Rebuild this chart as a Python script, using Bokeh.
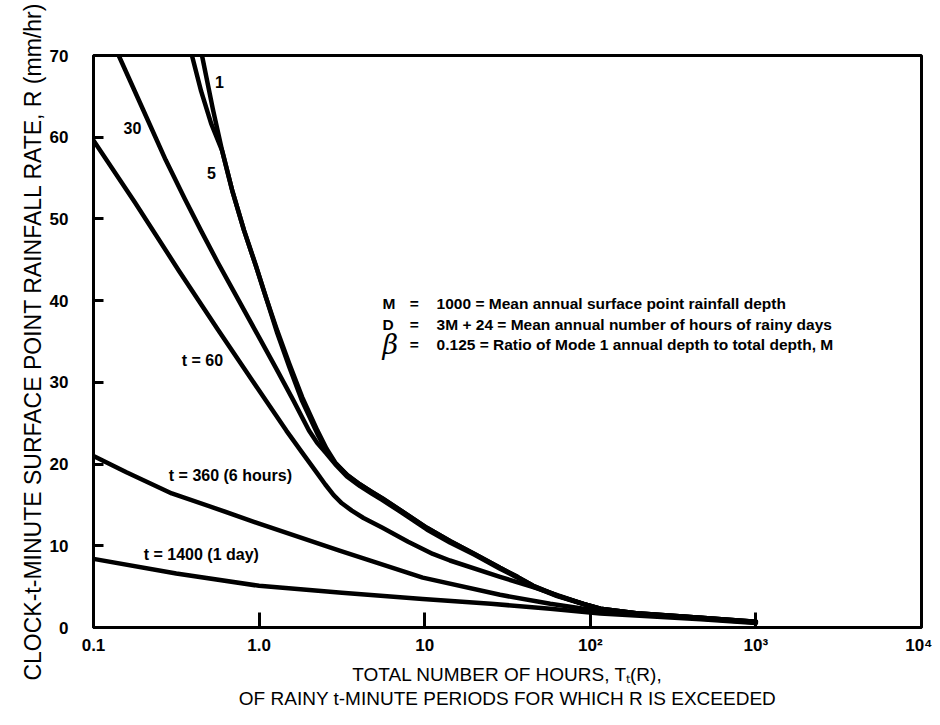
from bokeh.plotting import figure
from bokeh.models import FixedTicker, LogAxis, Title
from bokeh.embed import file_html
from bokeh.resources import INLINE
from bokeh.core.properties import value

# ---- data (x = hours, R = mm/hr) ----
t1_x = [0.452, 0.525, 0.597, 0.692, 0.811, 0.955, 1.10, 1.288, 1.52, 1.82, 2.25, 2.55, 2.88, 3.39, 4.07,
        4.79, 5.56, 7.08, 10.3, 14.2, 20.0, 28.5, 36.3, 45.2, 63.1, 90.8, 115, 200, 465, 1000]
t1_r = [70.0, 63.5, 58.4, 53.3, 48.6, 44.3, 40.4, 36.3, 32.3, 28.2, 24.1, 21.9, 20.2, 18.7, 17.5,
        16.6, 15.8, 14.4, 12.2, 10.6, 9.0, 7.3, 6.2, 5.1, 3.9, 2.9, 2.3, 1.7, 1.2, 0.7]

t5_x = [0.393, 0.447, 0.513, 0.597, 0.692, 0.811, 0.955, 1.10, 1.288, 1.52, 1.82, 2.25, 2.55, 2.88, 3.39,
        4.07, 4.79, 5.56, 7.08, 10.3, 14.2, 20.0, 28.5, 36.3, 45.2, 63.1, 90.8, 115, 200, 465, 1000]
t5_r = [70.0, 65.6, 61.7, 58.4, 53.3, 48.6, 44.3, 40.4, 36.0, 31.9, 27.7, 23.7, 21.6, 20.1, 18.7,
        17.5, 16.6, 15.8, 14.4, 12.2, 10.6, 9.0, 7.3, 6.2, 5.1, 3.9, 2.9, 2.3, 1.7, 1.2, 0.7]

t30_x = [0.142, 0.20, 0.273, 0.355, 0.445, 0.562, 0.70, 1.0, 1.26, 1.61, 2.0, 2.24, 2.55, 2.88, 3.39, 4.07,
         4.79, 5.56, 7.08, 10.3, 14.2, 20.0, 28.5, 36.3, 45.2, 63.1, 90.8, 115, 200, 465, 1000]
t30_r = [70.0, 63.3, 57.2, 52.5, 48.6, 44.7, 41.2, 35.5, 31.8, 27.8, 24.1, 22.6, 21.3, 20.0, 18.5, 17.3,
         16.4, 15.6, 14.2, 12.0, 10.4, 8.9, 7.2, 6.1, 5.0, 3.85, 2.85, 2.25, 1.65, 1.15, 0.65]

t60_x = [0.1, 0.178, 0.327, 0.562, 1.0, 1.46, 1.82, 2.24, 2.51, 2.82, 3.16, 3.63, 4.27, 5.56, 7.94,
         11.2, 14.2, 28.5, 47.8, 90.8, 115, 200, 465, 1000]
t60_r = [59.6, 52.0, 43.7, 36.5, 29.0, 24.1, 21.4, 18.9, 17.5, 16.2, 15.2, 14.3, 13.4, 12.2, 10.5,
         9.0, 8.2, 6.2, 4.8, 2.9, 2.3, 1.7, 1.2, 0.7]

t360_x = [0.1, 0.158, 0.297, 0.562, 1.0, 3.06, 9.73, 28.5, 57.3, 115, 465, 1000]
t360_r = [21.0, 19.0, 16.4, 14.5, 12.7, 9.4, 6.1, 4.0, 2.9, 2.0, 1.1, 0.6]

t1400_x = [0.1, 0.316, 1.0, 3.16, 9.73, 25.1, 57.3, 115, 465, 1000]
t1400_r = [8.4, 6.6, 5.1, 4.25, 3.5, 2.9, 2.3, 1.7, 1.0, 0.55]

curve_label_text = ["1", "5", "30", "t = 60", "t = 360 (6 hours)", "t = 1400 (1 day)"]
curve_label_x = [0.541, 0.484, 0.152, 0.341, 0.285, 0.201]
curve_label_r = [66.7, 55.6, 61.1, 32.7, 18.6, 8.9]

note_symbols = ["M", "D"]
note_text = ["1000 = Mean annual surface point rainfall depth",
             "3M + 24 = Mean annual number of hours of rainy days",
             "0.125 = Ratio of Mode 1 annual depth to total depth, M"]
note_r = [39.7, 37.1, 34.6]
note_sym_x = 5.56
note_eq_x = 8.11
note_txt_x = 11.8

x_ticks = [0.1, 1, 10, 100, 1000, 10000]
x_tick_labels = ["0.1", "1.0", "10", "10\u00b2", "10\u00b3", "10\u2074"]
y_ticks = [0, 10, 20, 30, 40, 50, 60, 70]

x_title_1 = "TOTAL NUMBER OF HOURS, T\u209c(R),"
x_title_2 = "OF RAINY t-MINUTE PERIODS FOR WHICH R IS EXCEEDED"
y_title = "CLOCK-t-MINUTE SURFACE POINT RAINFALL RATE, R (mm/hr)"

FONT = "Liberation Sans"

p = figure(width=932, height=717, x_axis_type="log", x_range=(0.1, 10000), y_range=(0, 70),
           output_backend="svg", toolbar_location=None,
           min_border_left=93, min_border_right=11, min_border_top=55, min_border_bottom=90)

p.grid.visible = False
p.outline_line_color = "black"
p.outline_line_width = 3
p.background_fill_color = "white"
p.border_fill_color = "white"

for ax in (p.xaxis[0], p.yaxis[0]):
    ax.axis_line_width = 3
    ax.axis_line_color = "black"
    ax.major_tick_out = 0
    ax.minor_tick_line_color = None
    ax.major_tick_line_width = 3
    ax.major_label_text_font = FONT
    ax.major_label_text_font_style = "bold"
    ax.major_label_text_font_size = "17px"
    ax.major_label_text_color = "black"
    ax.axis_label_text_font = FONT
    ax.axis_label_text_font_style = "normal"
    ax.axis_label_text_color = "black"

p.xaxis.ticker = FixedTicker(ticks=x_ticks)
p.xaxis.major_label_overrides = {t: l for t, l in zip(x_ticks, x_tick_labels)}
p.xaxis.major_tick_in = 15
p.xaxis.major_label_standoff = 8
p.xaxis.axis_label = x_title_1
p.xaxis.axis_label_text_font_size = "19px"
p.xaxis.axis_label_standoff = 6

ax2 = LogAxis(ticker=FixedTicker(ticks=[]), axis_line_color=None, major_tick_line_color=None,
              minor_tick_line_color=None, major_label_text_font_size="0px",
              axis_label=x_title_2, axis_label_text_font=FONT, axis_label_text_font_size="19px",
              axis_label_text_font_style="normal", axis_label_text_color="black",
              axis_label_standoff=0)
p.add_layout(ax2, "below")

p.yaxis.ticker = FixedTicker(ticks=y_ticks)
p.yaxis.major_tick_in = 10
p.yaxis.major_label_standoff = 25

ytitle = Title(text=y_title, align="center", offset=16, text_font=FONT,
               text_font_size="23px", text_font_style="normal", text_color="black",
               standoff=2)
p.add_layout(ytitle, "left")

for xs, rs in [(t1_x, t1_r), (t5_x, t5_r), (t30_x, t30_r), (t60_x, t60_r),
               (t360_x, t360_r), (t1400_x, t1400_r)]:
    p.line(xs, rs, line_color="black", line_width=4.5, line_join="round", line_cap="round")

p.text(x=curve_label_x, y=curve_label_r, text=curve_label_text, text_font=value(FONT),
       text_font_style="bold", text_font_size="16px", text_color="black",
       text_align="left", text_baseline="middle")

p.text(x=[note_sym_x] * 2, y=note_r[:2], text=note_symbols, text_font=value(FONT),
       text_font_style="bold", text_font_size="15.5px", text_align="left", text_baseline="middle")
p.text(x=[note_sym_x], y=[note_r[2]], text=["\u03b2"], text_font=value("DejaVu Serif"),
       text_font_style="italic", text_font_size="27px", text_align="left", text_baseline="middle")
p.text(x=[note_eq_x] * 3, y=note_r, text=["="] * 3, text_font=value(FONT),
       text_font_style="bold", text_font_size="15.5px", text_align="left", text_baseline="middle")
p.text(x=[note_txt_x] * 3, y=note_r, text=note_text, text_font=value(FONT),
       text_font_style="bold", text_font_size="15.5px", text_align="left", text_baseline="middle")

open("out.html", "w").write(file_html(p, INLINE))
